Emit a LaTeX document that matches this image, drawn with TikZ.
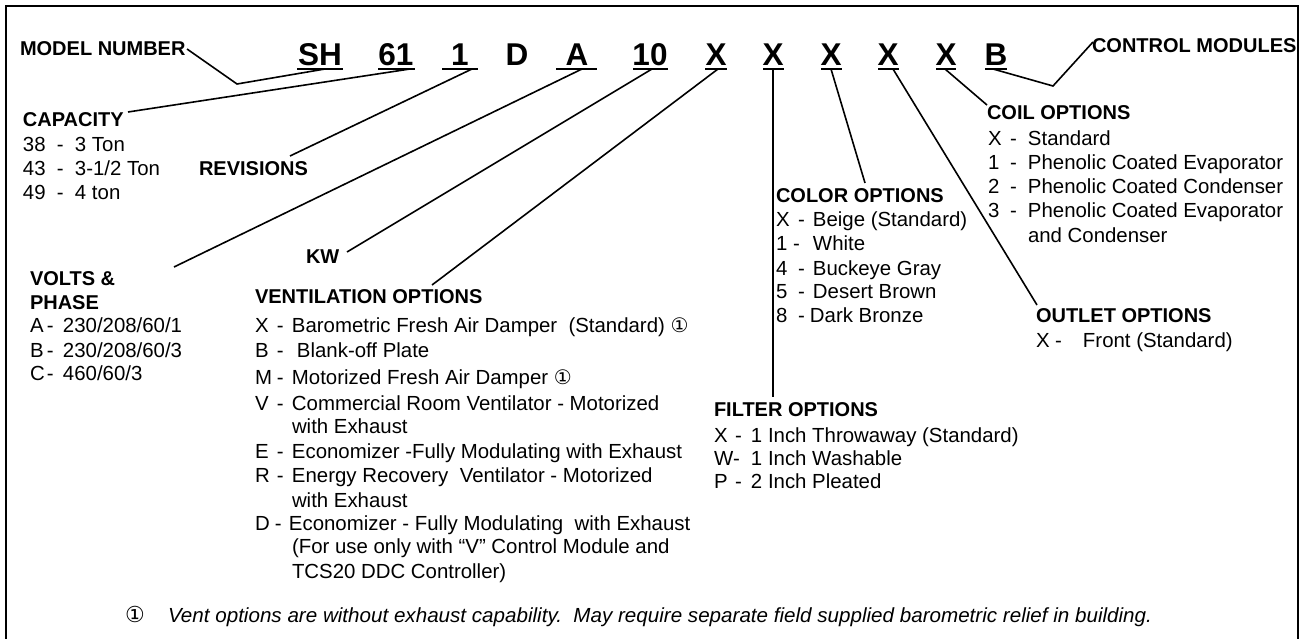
\documentclass[tikz,border=0pt]{standalone}
\usepackage{fontspec}
\usepackage{graphicx}
\setmainfont{Liberation Sans}
\newfontfamily\symfont{DejaVu Sans}
\newcommand\optrow[7]{\node[txt] (#1) at (#2,#3) {\makebox[#4pt][l]{#6}\makebox[#5pt][l]{-}#7};}
\newcommand\circone{{\symfont\fontsize{20}{22}\selectfont ①}}
\begin{document}
\begin{tikzpicture}[x=1pt,y=-1pt,
  txt/.style={anchor=base west, inner sep=0pt, outer sep=0pt, font=\fontsize{20.4}{24}\selectfont},
  hdr/.style={anchor=base west, inner sep=0pt, outer sep=0pt, font=\fontsize{20}{24}\selectfont\bfseries},
  code/.style={anchor=base, inner sep=0pt, outer sep=0pt, font=\fontsize{31.5}{36}\selectfont\bfseries},
  conn/.style={line width=1.6pt, line join=miter},
  uline/.style={line width=1.8pt}]
\useasboundingbox (0,0) rectangle (1309,639);
\clip (0,0) rectangle (1309,639);
\draw[line width=2.5pt] (6,6) rectangle (1298,680);

% ---- model code letters ----
\node[code] (kSH) at (320,66) {SH};
\node[code] (k61) at (396,66) {61};
\node[code] (k1)  at (460,66) {1};
\node[code] (kD)  at (517,66) {D};
\node[code] (kA)  at (577,66) {A};
\node[code] (k10) at (650,66) {10};
\node[code] (kX1) at (716,66) {X};
\node[code] (kX2) at (773,66) {X};
\node[code] (kX3) at (831,66) {X};
\node[code] (kX4) at (888,66) {X};
\node[code] (kX5) at (946,66) {X};
\node[code] (kB)  at (996,66) {B};
\draw[uline] (297,69) -- (343,69);
\draw[uline] (378,69) -- (415,69);
\draw[uline] (442,69) -- (478,69);
\draw[uline] (556,69) -- (597,69);
\draw[uline] (633,69) -- (668,69);
\draw[uline] (705,69) -- (727,69);
\draw[uline] (763,69) -- (784,69);
\draw[uline] (821,69) -- (842,69);
\draw[uline] (878,69) -- (899,69);
\draw[uline] (936,69) -- (956,69);
\draw[uline] (985,69) -- (1007,69);

% ---- headers ----
\node[hdr] (model) at (20,56) {MODEL NUMBER};
\node[hdr] (cap) at (23,127) {CAPACITY};
\node[hdr] (rev) at (199,176) {REVISIONS};
\node[hdr] (volts) at (30,285) {VOLTS \&};
\node[hdr] (phase) at (30,309) {PHASE};
\node[hdr] (kw) at (306,263) {KW};
\node[hdr] (vent) at (255,303) {VENTILATION OPTIONS};
\node[hdr] (color) at (776,203) {COLOR OPTIONS};
\node[hdr] (filter) at (714,416) {FILTER OPTIONS};
\node[hdr] (outlet) at (1036,322) {OUTLET OPTIONS};
\node[hdr] (coil) at (987,120) {COIL OPTIONS};
\node[hdr] (ctrl) at (1092,53) {CONTROL MODULES};

% ---- capacity ----
\optrow{cap1}{23}{152}{34}{18}{38}{3 Ton}
\optrow{cap2}{23}{176}{34}{18}{43}{3-1/2 Ton}
\optrow{cap3}{23}{200}{34}{18}{49}{4 ton}

% ---- volts ----
\optrow{v1}{30}{332}{17}{16}{A}{230/208/60/1}
\optrow{v2}{30}{357}{17}{16}{B}{230/208/60/3}
\optrow{v3}{30}{380}{17}{16}{C}{460/60/3}

% ---- ventilation ----
\optrow{ve1}{255}{332}{22}{15}{X}{Barometric Fresh Air Damper\ \ (Standard) \circone}
\optrow{ve2}{255}{357}{22}{20}{B}{Blank-off Plate}
\optrow{ve3}{255}{384}{22}{15}{M}{Motorized Fresh Air Damper \circone}
\optrow{ve4}{255}{410}{22}{15}{V}{Commercial Room Ventilator - Motorized}
\node[txt] (ve4b) at (292,433) {with Exhaust};
\optrow{ve5}{255}{458}{22}{15}{E}{Economizer -Fully Modulating with Exhaust}
\optrow{ve6}{255}{482}{22}{15}{R}{Energy Recovery\ \ Ventilator - Motorized}
\node[txt] (ve6b) at (292,507) {with Exhaust};
\optrow{ve7}{255}{530}{20}{14}{D}{Economizer - Fully Modulating\ \ with Exhaust}
\node[txt] (ve7b) at (292,553) {(For use only with “V” Control Module and};
\node[txt] (ve7c) at (292,578) {TCS20 DDC Controller)};

% ---- color ----
\optrow{co1}{776}{227}{22}{15}{X}{Beige (Standard)}
\optrow{co2}{776}{251}{17}{20}{1}{White}
\optrow{co3}{776}{275}{22}{15}{4}{Buckeye Gray}
\optrow{co4}{776}{298}{22}{15}{5}{Desert Brown}
\optrow{co5}{776}{322}{22}{12}{8}{Dark Bronze}

% ---- coil ----
\optrow{ci1}{988}{146}{22}{18}{X}{Standard}
\optrow{ci2}{988}{170}{22}{18}{1}{Phenolic Coated Evaporator}
\optrow{ci3}{988}{194}{22}{18}{2}{Phenolic Coated Condenser}
\optrow{ci4}{988}{218}{22}{18}{3}{Phenolic Coated Evaporator}
\node[txt] (ci4b) at (1028,242) {and Condenser};

% ---- outlet ----
\optrow{ou1}{1036}{347}{19}{28}{X}{Front (Standard)}

% ---- filter ----
\optrow{fi1}{714}{442}{21}{16}{X}{1 Inch Throwaway (Standard)}
\optrow{fi2}{714}{465}{19}{18}{W}{1 Inch Washable}
\optrow{fi3}{714}{488}{21}{16}{P}{2 Inch Pleated}

% ---- footnote ----
\node[txt, font=\symfont\fontsize{22}{24}\selectfont] (fnmark) at (125,622) {①};
\node[txt] (fn) at (168,622) {\resizebox{984pt}{\height}{\itshape Vent options are without exhaust capability.\ \ May require separate field supplied barometric relief in building.}};

% ---- connector end points ----
\coordinate (pSH) at (325,69);
\coordinate (mnBend) at (237,84);
\coordinate (mnEnd) at (187,49);
\coordinate (p61) at (410,69);
\coordinate (capEnd) at (128,112);
\coordinate (p1) at (472,69);
\coordinate (revEnd) at (290,156);
\coordinate (pA) at (582,69);
\coordinate (voltEnd) at (174,267);
\coordinate (p10) at (652,69);
\coordinate (kwEnd) at (347,252);
\coordinate (pX1) at (718,69);
\coordinate (ventEnd) at (432,285);
\coordinate (pX2) at (773,69);
\coordinate (filtEnd) at (773,397);
\coordinate (pX3) at (831,69);
\coordinate (colEnd) at (865,183);
\coordinate (pX4) at (893,69);
\coordinate (outEnd) at (1037,305);
\coordinate (pX5) at (945,69);
\coordinate (coilEnd) at (987,105);
\coordinate (pB) at (993,69);
\coordinate (ctrlBend) at (1053,86);
\coordinate (ctrlEnd) at (1093,42);

\draw[conn] (pSH) -- (mnBend) -- (mnEnd);
\draw[conn] (p61) -- (capEnd);
\draw[conn] (p1) -- (revEnd);
\draw[conn] (pA) -- (voltEnd);
\draw[conn] (p10) -- (kwEnd);
\draw[conn] (pX1) -- (ventEnd);
\draw[conn] (pX2) -- (filtEnd);
\draw[conn] (pX3) -- (colEnd);
\draw[conn] (pX4) -- (outEnd);
\draw[conn] (pX5) -- (coilEnd);
\draw[conn] (pB) -- (ctrlBend) -- (ctrlEnd);
\end{tikzpicture}
\end{document}
